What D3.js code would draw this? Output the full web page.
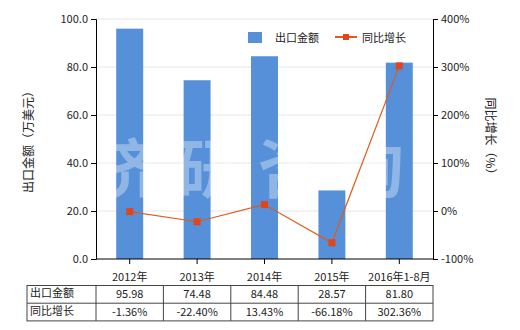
<!DOCTYPE html>
<html>
<head>
<meta charset="utf-8">
<script src="https://cdn.jsdelivr.net/npm/d3@7"></script>
<style>
  body { margin: 0; background: #fff; }
  text { font-family: "Microsoft YaHei", "Noto Sans CJK SC", sans-serif; fill: #222; }
</style>
</head>
<body>
<div id="chart"></div>
<script>
// data
const years = ["2012年", "2013年", "2014年", "2015年", "2016年1-8月"];
const amounts = [95.98, 74.48, 84.48, 28.57, 81.80];
const growth = [-1.36, -22.40, 13.43, -66.18, 302.36];
const leftTicks = [0, 20, 40, 60, 80, 100];
const rightTicks = [-100, 0, 100, 200, 300, 400];

// constants
const width = 520, height = 330;
const plot = {left: 96, right: 433, top: 19, bottom: 259};
const barColor = "#5590d8";
const lineColor = "#e05a1a";
const fmt2 = d3.formatLocale({decimal: ".", thousands: ",", grouping: [3], currency: ["", ""], minus: "-"}).format(".2f");

const svg = d3.select("#chart").append("svg")
    .attr("width", width)
    .attr("height", height);

const xScale = d3.scaleBand()
    .domain(years)
    .range([plot.left, plot.right])
    .paddingInner(0.6)
    .paddingOuter(0.3);

const yLeft = d3.scaleLinear().domain([0, 100]).range([plot.bottom, plot.top]);
const yRight = d3.scaleLinear().domain([-100, 400]).range([plot.bottom, plot.top]);

// gridlines
svg.selectAll("line.grid")
    .data(leftTicks.slice(1))
    .join("line")
    .attr("class", "grid")
    .attr("x1", plot.left).attr("x2", plot.right)
    .attr("y1", d => yLeft(d)).attr("y2", d => yLeft(d))
    .attr("stroke", "#e6e6de").attr("stroke-width", 1);

// bars
svg.selectAll("rect.bar")
    .data(amounts)
    .join("rect")
    .attr("class", "bar")
    .attr("x", (d, i) => xScale(years[i]))
    .attr("width", xScale.bandwidth())
    .attr("y", d => yLeft(d))
    .attr("height", d => plot.bottom - yLeft(d))
    .attr("fill", barColor);

// watermark
svg.append("text")
    .attr("x", 258).attr("y", 192)
    .attr("text-anchor", "middle")
    .style("font-size", "64px")
    .style("font-weight", "bold")
    .style("letter-spacing", "18px")
    .style("fill", "#ffffff")
    .style("fill-opacity", 0.35)
    .text("济研咨询");

// axes
const axisL = svg.append("g")
    .attr("transform", `translate(${plot.left},0)`)
    .call(d3.axisLeft(yLeft).tickValues(leftTicks).tickFormat(d3.format(".1f")).tickSize(5));
const axisR = svg.append("g")
    .attr("transform", `translate(${plot.right},0)`)
    .call(d3.axisRight(yRight).tickValues(rightTicks).tickFormat(d => d + "%").tickSize(5));
const center = d => xScale(d) + xScale.bandwidth() / 2;
const axisB = svg.append("g")
    .attr("transform", `translate(0,${plot.bottom})`)
    .call(d3.axisBottom(xScale).tickSize(5).tickSizeOuter(0));
axisB.selectAll(".tick text").attr("dy", "1.25em");

[axisL, axisR, axisB].forEach(g => {
    g.select(".domain").attr("stroke", "#000");
    g.selectAll(".tick line").attr("stroke", "#000");
    g.selectAll(".tick text").style("font-size", "11px").style("fill", "#222");
});
axisB.select(".domain").attr("d", `M${plot.left},0H${plot.right}`);

// line
const line = d3.line()
    .x((d, i) => center(years[i]))
    .y(d => yRight(d));
svg.append("path")
    .datum(growth)
    .attr("d", line)
    .attr("fill", "none")
    .attr("stroke", lineColor)
    .attr("stroke-width", 1.2);
svg.selectAll("rect.marker")
    .data(growth)
    .join("rect")
    .attr("class", "marker")
    .attr("x", (d, i) => center(years[i]) - 3.5)
    .attr("y", d => yRight(d) - 3.5)
    .attr("width", 7).attr("height", 7)
    .attr("fill", "#e0461a");

// axis titles
svg.append("text")
    .attr("transform", "translate(33,139) rotate(-90)")
    .attr("text-anchor", "middle")
    .style("font-size", "12px")
    .text("出口金额（万美元）");
svg.append("text")
    .attr("transform", "translate(486,139) rotate(90)")
    .attr("text-anchor", "middle")
    .style("font-size", "12px")
    .text("同比增长（%）");

// legend
svg.append("rect")
    .attr("x", 248).attr("y", 32).attr("width", 14).attr("height", 11)
    .attr("fill", barColor);
svg.append("text")
    .attr("x", 275).attr("y", 42)
    .style("font-size", "11px")
    .text("出口金额");
svg.append("line")
    .attr("x1", 335).attr("x2", 357).attr("y1", 37).attr("y2", 37)
    .attr("stroke", lineColor).attr("stroke-width", 2);
svg.append("rect")
    .attr("x", 343).attr("y", 34).attr("width", 6).attr("height", 6)
    .attr("fill", "#e0461a");
svg.append("text")
    .attr("x", 362).attr("y", 42)
    .style("font-size", "11px")
    .text("同比增长");

// data table
const tableTop = 285.5, rowH = 17.7, tableLeft = 27;
const rows = [
    {label: "出口金额", values: amounts.map(d => fmt2(d))},
    {label: "同比增长", values: growth.map(d => fmt2(d) + "%")}
];
const tableG = svg.append("g");
tableG.append("rect")
    .attr("x", tableLeft).attr("y", tableTop)
    .attr("width", plot.right - tableLeft).attr("height", rowH * 2)
    .attr("fill", "none").attr("stroke", "#444");
tableG.append("line")
    .attr("x1", tableLeft).attr("x2", plot.right)
    .attr("y1", tableTop + rowH).attr("y2", tableTop + rowH)
    .attr("stroke", "#444");
// column borders halfway between category centres
const borders = [plot.left].concat(years.slice(1).map((d, i) => (center(d) + center(years[i])) / 2));
tableG.selectAll("line.col")
    .data(borders)
    .join("line")
    .attr("class", "col")
    .attr("x1", d => d).attr("x2", d => d)
    .attr("y1", tableTop).attr("y2", tableTop + rowH * 2)
    .attr("stroke", "#444");
rows.forEach((row, r) => {
    const y = tableTop + rowH * r + rowH / 2 + 4;
    tableG.append("text")
        .attr("x", tableLeft + 3).attr("y", y - 1)
        .style("font-size", "11px")
        .text(row.label);
    tableG.selectAll("text.v" + r)
        .data(row.values)
        .join("text")
        .attr("class", "v" + r)
        .attr("x", (d, i) => center(years[i]))
        .attr("y", y)
        .attr("text-anchor", "middle")
        .style("font-size", "11px")
        .text(d => d);
});
</script>
</body>
</html>
